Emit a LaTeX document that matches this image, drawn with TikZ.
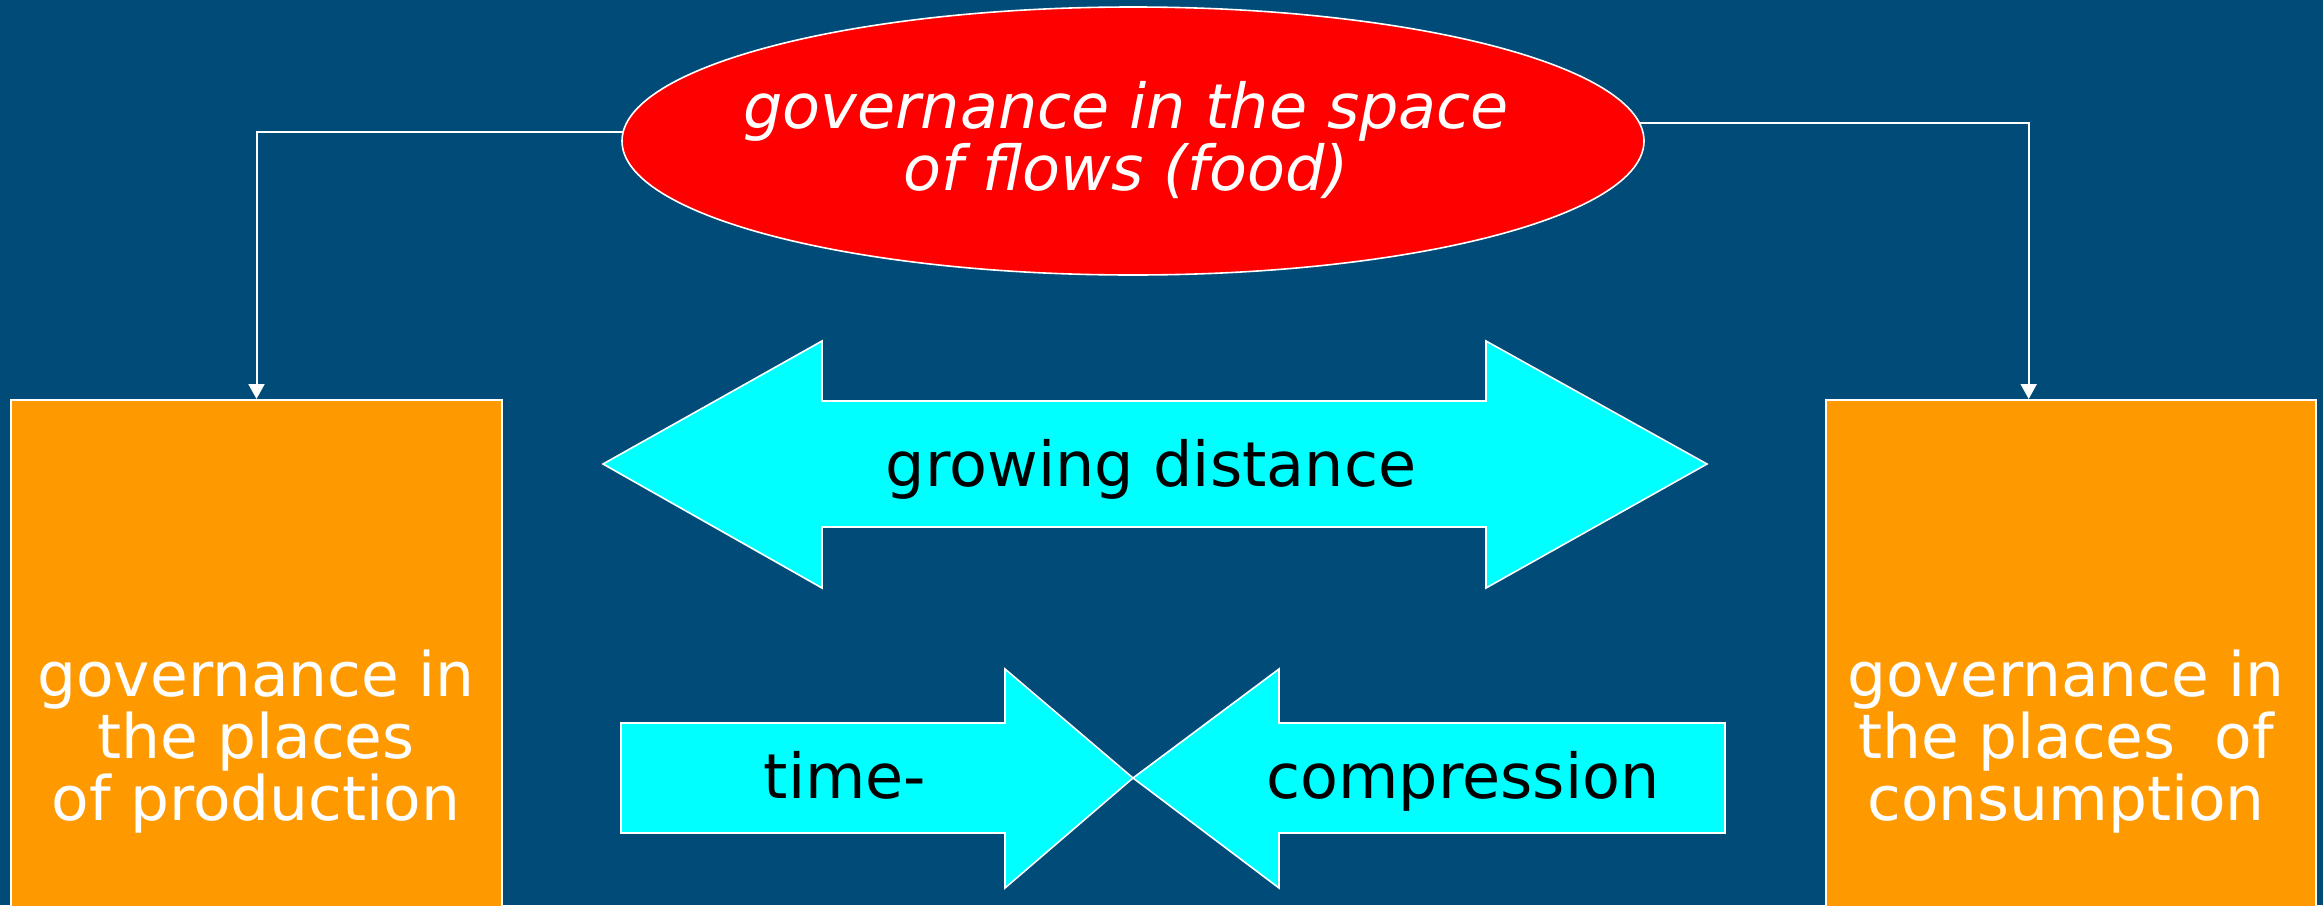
\documentclass[tikz,border=0pt]{standalone}
\usepackage{fontspec}
\setmainfont{DejaVu Sans}
\usetikzlibrary{shapes.geometric,arrows.meta,calc}
\definecolor{bgblue}{RGB}{1,75,120}
\definecolor{boxorange}{RGB}{255,153,0}
\definecolor{ellred}{RGB}{255,0,0}
\definecolor{arrcyan}{RGB}{0,255,255}
\begin{document}
\begin{tikzpicture}[x=0.5pt,y=-0.5pt,
  placebox/.style={draw=white,line width=1pt,fill=boxorange,minimum height=262.5pt,inner sep=0pt},
  flowell/.style={ellipse,draw=white,line width=0.8pt,fill=ellred,minimum width=511pt,minimum height=134pt,inner sep=0pt,outer sep=0pt},
  flowtext/.style={text=white,align=center,inner sep=0pt,font=\fontsize{31pt}{31pt}\selectfont\itshape},
  boxtext/.style={text=white,align=center,inner sep=0pt,font=\fontsize{30.7pt}{31pt}\selectfont},
  arrtext/.style={text=black,inner sep=0pt,anchor=base,font=\fontsize{31pt}{37pt}\selectfont},
  bigarrow/.style={fill=arrcyan,draw=white,line width=0.8pt,line join=miter},
  link/.style={draw=white,line width=1pt,-{Triangle[width=8pt,length=7.5pt]}}
]
\useasboundingbox (0,0) rectangle (2323,905);
\clip (0,0) rectangle (2323,905);
\fill[bgblue] (0,0) rectangle (2323,905);

% places boxes
\node[placebox,minimum width=245.5pt] (prodbox) at (256.5,662.5) {};
\node[placebox,minimum width=245pt] (consbox) at (2071,662.5) {};
\node[boxtext] (prodtext) at (256,742) {governance in\\the places\\of production};
\node[boxtext] (constext) at (2066,742) {governance in\\the places~ of\\consumption};

% space of flows
\node[flowell] (flows) at (1133,141) {};
\node[flowtext] (flowslabel) at (1126,140) {governance in the space\\of flows (food)};

% connectors
\draw[link] (flows.179.2) -| (prodbox.north);
\draw[link] (flows.2.75) -| ($(consbox.north west)!0.414!(consbox.north east)$);

% growing distance
\draw[bigarrow] (603,464) -- (822,341) -- (822,401) -- (1486,401) -- (1486,341) -- (1707,464)
   -- (1486,588) -- (1486,527) -- (822,527) -- (822,588) -- cycle;
\node[arrtext] (growtext) at (1151,486) {growing distance};

% time-compression
\draw[bigarrow] (621,723) -- (1005,723) -- (1005,669) -- (1133,778) -- (1005,888) -- (1005,833) -- (621,833) -- cycle;
\draw[bigarrow] (1725,723) -- (1279,723) -- (1279,669) -- (1133,778) -- (1279,888) -- (1279,833) -- (1725,833) -- cycle;
\node[arrtext] (timetext) at (845,798) {time-};
\node[arrtext] (comptext) at (1463,798) {compression};
\end{tikzpicture}
\end{document}
